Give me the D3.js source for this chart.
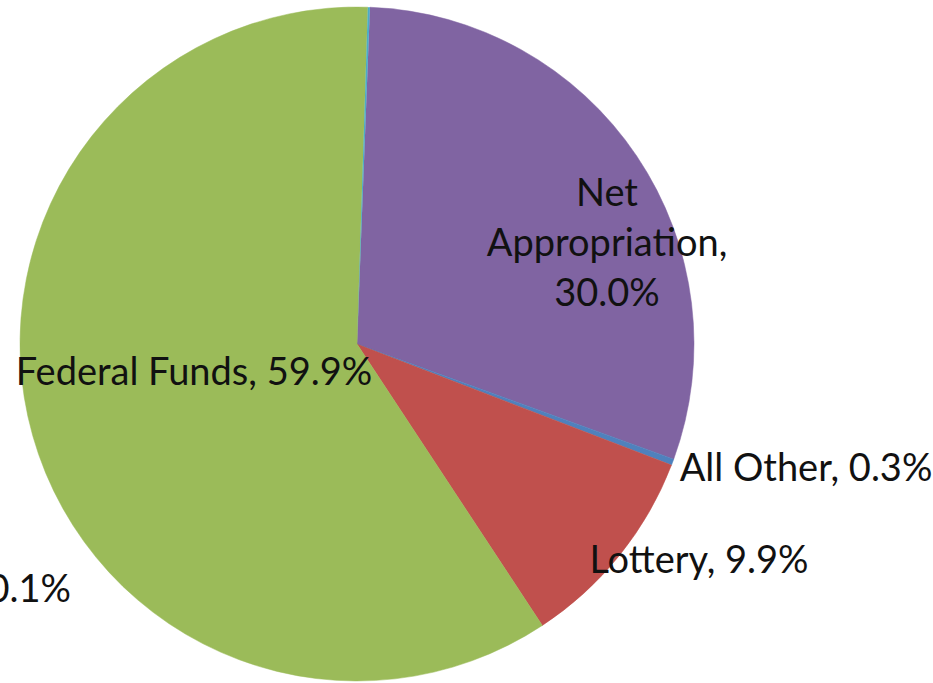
<!DOCTYPE html>
<html>
<head>
<meta charset="utf-8">
<script src="https://cdn.jsdelivr.net/npm/d3@7"></script>
<style>
  html, body { margin: 0; padding: 0; background: #fff; }
  svg { display: block; }
</style>
</head>
<body>
<svg id="chart" width="933" height="683"></svg>
<script>
// ---- data ----
const categories = ["Net Appropriation", "All Other", "Lottery", "Federal Funds", "Other"];
const values = [30.0, 0.3, 9.9, 59.9, 0.1];
const colors = ["#8064A2", "#4F81BD", "#C0504D", "#9BBB59", "#4BACC6"];
// label lines as shown in the picture
const labelLines = [
  ["Net", "Appropriation,", "30.0%"],
  ["All Other, 0.3%"],
  ["Lottery, 9.9%"],
  ["Federal Funds, 59.9%"],
  ["0.1%"]
];

// ---- layout ----
const W = 933, H = 683;
const cx = 357, cy = 344, R = 337;
const startDeg = 2.2;
const fontSize = 38;
const lineH = 50;
// label anchor positions (x, first baseline, anchor)
const labelPos = [
  [607, 206, "middle"],
  [806, 481, "middle"],
  [699, 573, "middle"],
  [194, 385, "middle"],
  [71, 602, "end"]
];

const svg = d3.select("#chart");
const g = svg.append("g").attr("transform", `translate(${cx},${cy})`);

const data = categories.map((c, i) => ({ name: c, value: values[i], color: colors[i], i }));

const pie = d3.pie()
  .sort(null)
  .value(d => d.value)
  .startAngle(startDeg * Math.PI / 180)
  .endAngle(startDeg * Math.PI / 180 + 2 * Math.PI);

const arc = d3.arc().innerRadius(0).outerRadius(R);

g.selectAll("path.slice")
  .data(pie(data))
  .join("path")
  .attr("class", "slice")
  .attr("d", arc)
  .attr("fill", d => d.data.color)
  .attr("stroke", d => d.data.value >= 0.3 ? d.data.color : "none")
  .attr("stroke-width", 0.5);

const labels = svg.append("g")
  .attr("font-family", "Lato, 'Open Sans', sans-serif")
  .attr("font-size", fontSize)
  .attr("fill", "#111");

data.forEach((d, i) => {
  const [x, y, anchor] = labelPos[i];
  const t = labels.append("text")
    .attr("x", x).attr("y", y)
    .attr("text-anchor", anchor);
  labelLines[i].forEach((line, k) => {
    t.append("tspan").attr("x", x).attr("y", y + k * lineH).text(line);
  });
});
</script>
</body>
</html>
